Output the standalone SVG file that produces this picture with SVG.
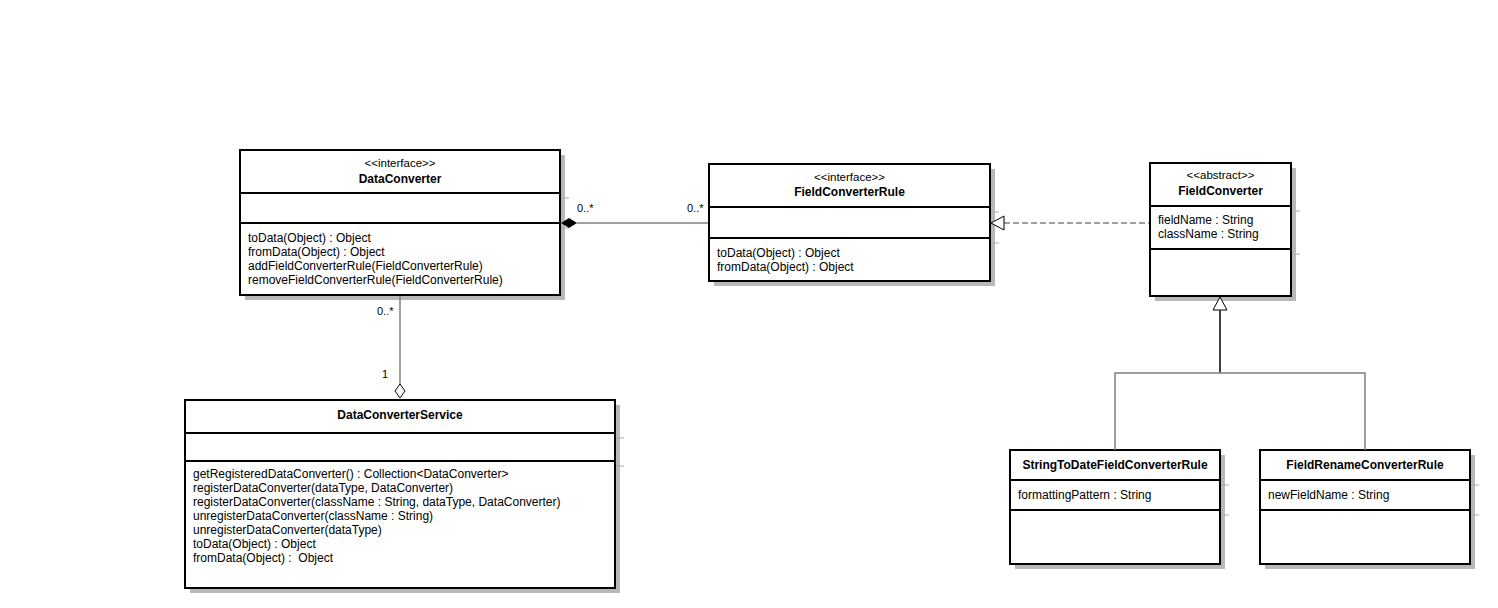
<svg xmlns="http://www.w3.org/2000/svg" width="1498" height="608" viewBox="0 0 1498 608">
<style>
text{font-family:"Liberation Sans",Arial,Helvetica,sans-serif;font-size:12px;fill:#000}
.n{font-weight:bold;text-anchor:middle}
.s{text-anchor:middle;font-size:11.5px}
.m{font-size:11px}
.box{fill:#fff;stroke:#000;stroke-width:2}
.sh{fill:#b8b8b8}
.dv{stroke:#000;stroke-width:2}
.st{stroke:#aaaaaa;stroke-width:1}
.ln{stroke:#808080;stroke-width:1.5;fill:none}
</style>
<rect width="1498" height="608" fill="#fff"/>
<g id="DataConverter">
<rect class="sh" x="245" y="155" width="320" height="145"/>
<rect class="box" x="240" y="150" width="320" height="145"/>
<line class="dv" x1="240" y1="193" x2="560" y2="193"/>
<line class="dv" x1="240" y1="223" x2="560" y2="223"/>
<line class="st" x1="561" y1="198" x2="569" y2="198"/>
<line class="st" x1="561" y1="228" x2="569" y2="228"/>
<text class="s" x="400" y="167">&lt;&lt;interface&gt;&gt;</text>
<text class="n" x="400" y="183">DataConverter</text>
<text x="248" y="242">toData(Object) : Object</text>
<text x="248" y="256">fromData(Object) : Object</text>
<text x="248" y="270">addFieldConverterRule(FieldConverterRule)</text>
<text x="248" y="284">removeFieldConverterRule(FieldConverterRule)</text>
</g>
<g id="FieldConverterRule">
<rect class="sh" x="714" y="169" width="281" height="117"/>
<rect class="box" x="709" y="164" width="281" height="117"/>
<line class="dv" x1="709" y1="207" x2="990" y2="207"/>
<line class="dv" x1="709" y1="238" x2="990" y2="238"/>
<line class="st" x1="991" y1="212" x2="999" y2="212"/>
<line class="st" x1="991" y1="243" x2="999" y2="243"/>
<text class="s" x="849.5" y="181">&lt;&lt;interface&gt;&gt;</text>
<text class="n" x="849.5" y="196">FieldConverterRule</text>
<text x="717" y="257">toData(Object) : Object</text>
<text x="717" y="271">fromData(Object) : Object</text>
</g>
<g id="FieldConverter">
<rect class="sh" x="1155" y="168" width="141" height="133"/>
<rect class="box" x="1150" y="163" width="141" height="133"/>
<line class="dv" x1="1150" y1="206" x2="1291" y2="206"/>
<line class="dv" x1="1150" y1="249" x2="1291" y2="249"/>
<line class="st" x1="1292" y1="211" x2="1300" y2="211"/>
<line class="st" x1="1292" y1="254" x2="1300" y2="254"/>
<text class="s" x="1220.5" y="179">&lt;&lt;abstract&gt;&gt;</text>
<text class="n" x="1220.5" y="195">FieldConverter</text>
<text x="1158" y="224">fieldName : String</text>
<text x="1158" y="238">className : String</text>
</g>
<g id="DataConverterService">
<rect class="sh" x="190" y="405" width="430" height="188"/>
<rect class="box" x="185" y="400" width="430" height="188"/>
<line class="dv" x1="185" y1="433" x2="615" y2="433"/>
<line class="dv" x1="185" y1="461" x2="615" y2="461"/>
<line class="st" x1="616" y1="438" x2="624" y2="438"/>
<line class="st" x1="616" y1="466" x2="624" y2="466"/>
<text class="n" x="400" y="419">DataConverterService</text>
<text x="193" y="478">getRegisteredDataConverter() : Collection&lt;DataConverter&gt;</text>
<text x="193" y="492">registerDataConverter(dataType, DataConverter)</text>
<text x="193" y="506">registerDataConverter(className : String, dataType, DataConverter)</text>
<text x="193" y="520">unregisterDataConverter(className : String)</text>
<text x="193" y="534">unregisterDataConverter(dataType)</text>
<text x="193" y="548">toData(Object) : Object</text>
<text x="193" y="562" xml:space="preserve">fromData(Object) :  Object</text>
</g>
<g id="StringToDateFieldConverterRule">
<rect class="sh" x="1015" y="455" width="210" height="114"/>
<rect class="box" x="1010" y="450" width="210" height="114"/>
<line class="dv" x1="1010" y1="480" x2="1220" y2="480"/>
<line class="dv" x1="1010" y1="510" x2="1220" y2="510"/>
<line class="st" x1="1221" y1="485" x2="1229" y2="485"/>
<line class="st" x1="1221" y1="515" x2="1229" y2="515"/>
<text class="n" x="1115" y="469">StringToDateFieldConverterRule</text>
<text x="1018" y="499">formattingPattern : String</text>
</g>
<g id="FieldRenameConverterRule">
<rect class="sh" x="1265" y="455" width="210" height="114"/>
<rect class="box" x="1260" y="450" width="210" height="114"/>
<line class="dv" x1="1260" y1="480" x2="1470" y2="480"/>
<line class="dv" x1="1260" y1="510" x2="1470" y2="510"/>
<line class="st" x1="1471" y1="485" x2="1479" y2="485"/>
<line class="st" x1="1471" y1="515" x2="1479" y2="515"/>
<text class="n" x="1365" y="469">FieldRenameConverterRule</text>
<text x="1268" y="499">newFieldName : String</text>
</g>
<g id="connectors">
<line class="ln" x1="577" y1="223" x2="708" y2="223"/>
<polygon points="561,223 569,218 577,223 569,228" fill="#000"/>
<text class="m" x="577" y="212">0..*</text>
<text class="m" x="687" y="212">0..*</text>
<line class="ln" x1="400" y1="296" x2="400" y2="384"/>
<polygon points="400,384 405,391 400,398 395,391" fill="#fff" stroke="#000" stroke-width="1"/>
<text class="m" x="377" y="315">0..*</text>
<text class="m" x="382" y="378">1</text>
<line class="ln" x1="1004" y1="223" x2="1149" y2="223" stroke-dasharray="6,3"/>
<polygon points="991,223 1004,216 1004,230" fill="#fff" stroke="#000" stroke-width="1"/>
<polygon points="1220,297 1227,310 1213,310" fill="#fff" stroke="#000" stroke-width="1"/>
<line x1="1220" y1="310" x2="1220" y2="373" stroke="#404040" stroke-width="2"/>
<polyline class="ln" points="1115,450 1115,373 1365,373 1365,450"/>
</g>
</svg>
